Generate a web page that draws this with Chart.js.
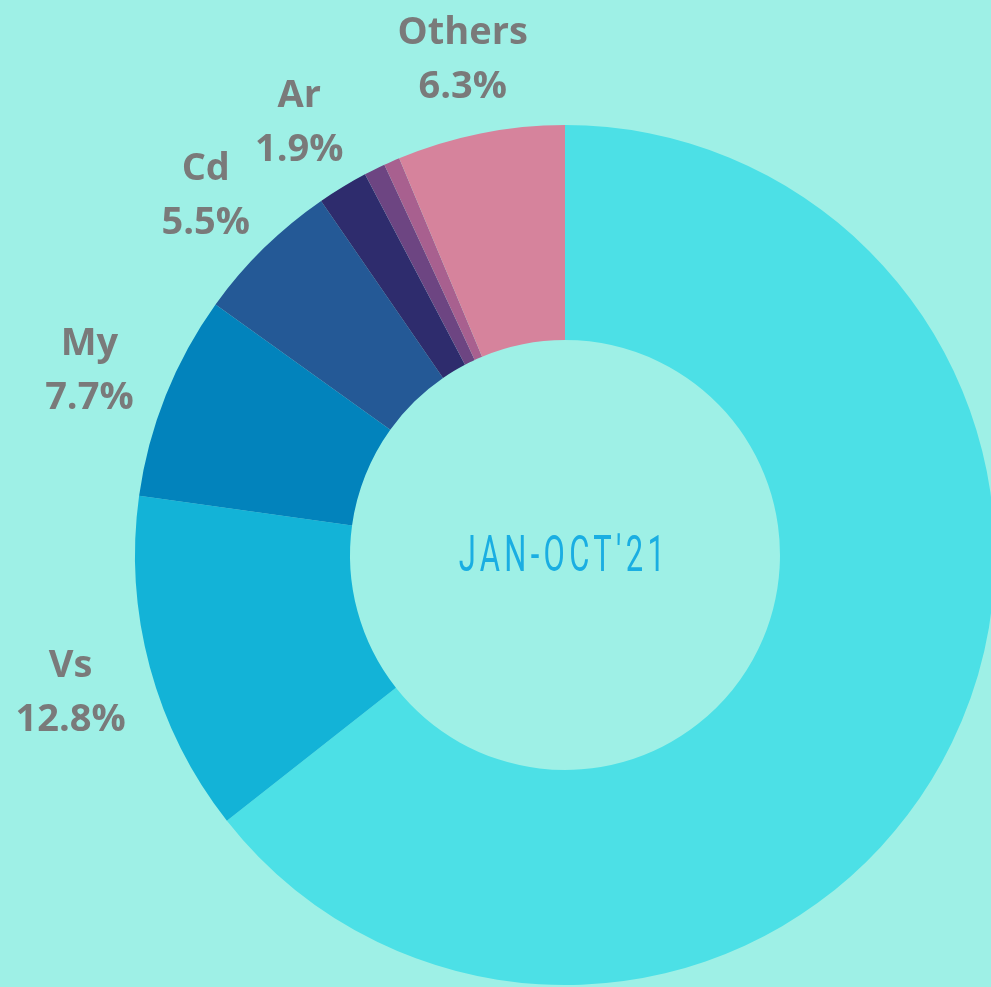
<!DOCTYPE html>
<html>
<head>
<meta charset="utf-8">
<script src="https://cdn.jsdelivr.net/npm/chart.js@4"></script>
<style>
  html, body { margin: 0; padding: 0; overflow: hidden; background: #9ef0e6; }
  #wrap { position: absolute; left: 0; top: 0; width: 1000px; height: 987px; }
</style>
</head>
<body>
<div id="wrap"><canvas id="share-chart" width="1000" height="987"></canvas></div>
<script>
// share of total, Jan-Oct '21 (first slice is the unlabelled main segment)
var categories = ["Main", "Vs", "My", "Cd", "Ar", "X1", "X2", "Others"];
var shares = [64.4, 12.8, 7.7, 5.5, 1.9, 0.8, 0.6, 6.3];
var labelled = [false, true, true, true, true, false, false, true];
var centerText = "JAN-OCT'21";

var colors = ["#4ce0e6", "#13b3d7", "#0283bc", "#245996", "#2e2c6d", "#6d4582", "#a8608f", "#d6839c"];

// draws the outside labels and the centre caption
var labelsPlugin = {
  id: "sliceLabels",
  afterDatasetsDraw: function (chart) {
    var ctx = chart.ctx;
    var meta = chart.getDatasetMeta(0);
    ctx.save();
    ctx.fillStyle = "#7a7a7a";
    ctx.font = "bold 38px 'Open Sans'";
    ctx.textAlign = "center";
    ctx.textBaseline = "middle";
    meta.data.forEach(function (arc, i) {
      if (!labelled[i]) return;
      var mid = (arc.startAngle + arc.endAngle) / 2;
      var r = arc.outerRadius + 80;
      var x = arc.x + Math.cos(mid) * r - 2;
      var y = arc.y + Math.sin(mid) * r;
      ctx.fillText(categories[i], x, y - 22);
      ctx.fillText(shares[i].toFixed(1) + "%", x, y + 32);
    });

    // condensed caption in the hole
    var a = meta.data[0];
    ctx.fillStyle = "#1aaee2";
    ctx.font = "400 50px Roboto";
    ctx.letterSpacing = "7px";
    var w = ctx.measureText(centerText).width;
    var sx = (a.innerRadius * 0.98) / w;
    ctx.translate(a.x - 1, a.y + 3);
    ctx.scale(sx, 1);
    ctx.fillText(centerText, 0, 0);
    ctx.restore();
  },
};

var ctx = document.getElementById("share-chart").getContext("2d");
var chart = new Chart(ctx, {
  type: "doughnut",
  data: {
    labels: categories,
    datasets: [
      {
        data: shares,
        backgroundColor: colors,
        borderWidth: 0,
      },
    ],
  },
  options: {
    responsive: false,
    animation: false,
    cutout: "50%",
    layout: { padding: { left: 135, right: 5, top: 125, bottom: 2 } },
    plugins: {
      legend: { display: false },
      tooltip: { enabled: false },
    },
  },
  plugins: [labelsPlugin],
});
</script>
</body>
</html>
